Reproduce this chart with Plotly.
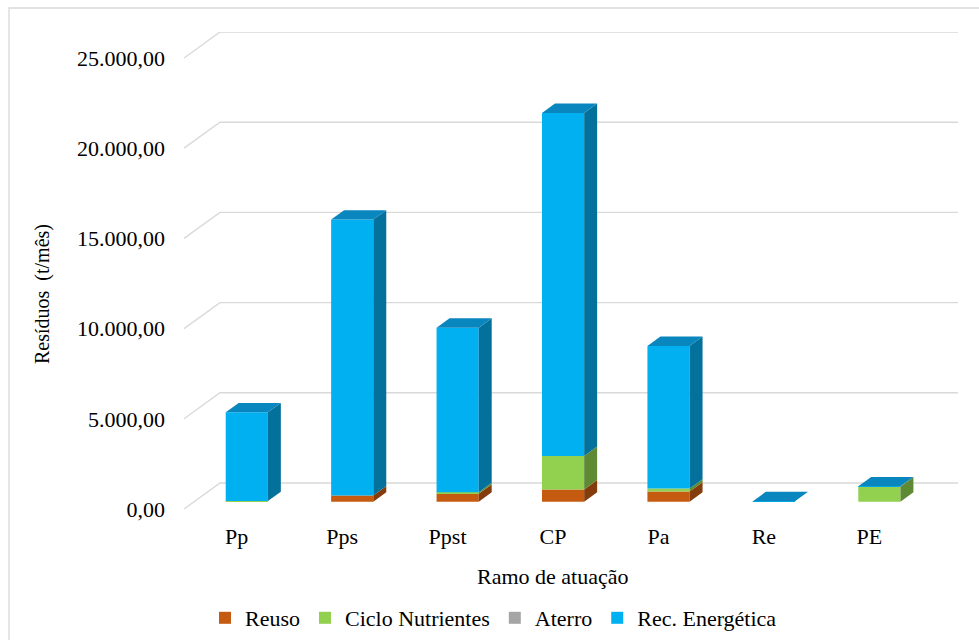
import plotly.graph_objects as go

# ---- data (t/mês) ----
categorias = ["Pp", "Pps", "Ppst", "CP", "Pa", "Re", "PE"]
reuso = [0, 350, 440, 680, 565, 5, 0]
ciclo_nutrientes = [40, 0, 90, 1860, 165, 5, 845]
aterro = [0, 0, 0, 0, 0, 0, 0]
rec_energetica = [4920, 15290, 9120, 19010, 7905, 20, 10]
y_ticks = [0, 5000, 10000, 15000, 20000, 25000]

series = [
    ("Reuso", reuso, "#C55A11", "#843C0C", "#9E480E"),
    ("Ciclo Nutrientes", ciclo_nutrientes, "#92D050", "#5F8A34", "#76A940"),
    ("Aterro", aterro, "#A5A5A5", "#6E6E6E", "#858585"),
    ("Rec. Energética", rec_energetica, "#00B0F0", "#04709C", "#0A86BE"),
]

# ---- page geometry ----
W, H = 979, 640
ML, MR, MT, MB = 184, 21, 32, 131
DEPTH_DX, DEPTH_DY = 36, 26          # pixel offset of the back wall
plot_w = W - ML - MR
plot_h = H - MT - MB
n = len(categorias)
px_per_x = (plot_w - DEPTH_DX) / n
px_per_y = (plot_h - DEPTH_DY) / y_ticks[-1]
x_range = [-0.5, -0.5 + plot_w / px_per_x]
y_range = [0, plot_h / px_per_y]
ex = DEPTH_DX / px_per_x              # depth vector in data units
ey = DEPTH_DY / px_per_y

BAR_W = 0.4
D_FRONT, D_BACK = 0.28, 0.64          # depth fractions of bar front/back

FONT = "Liberation Serif, Times New Roman, DejaVu Serif, serif"
FS = 22

fig = go.Figure()

# cumulative bases for the stacked columns
bases = []
acc = [0.0] * n
for _, vals, *_ in series:
    bases.append(list(acc))
    acc = [a + v for a, v in zip(acc, vals)]
totals = acc

# front faces
for (name, vals, c_front, _, _), base in zip(series, bases):
    fig.add_trace(go.Bar(
        name=name,
        x=[i + D_FRONT * ex for i in range(n)],
        y=vals,
        base=[b + D_FRONT * ey for b in base],
        width=BAR_W,
        marker=dict(color=c_front, line=dict(width=0)),
        hoverinfo="skip",
    ))

# right side faces
for (name, vals, _, c_side, _), base in zip(series, bases):
    xs, ys = [], []
    for i in range(n):
        if vals[i] <= 0:
            continue
        b, t = base[i], base[i] + vals[i]
        xr = i + BAR_W / 2
        xs += [xr + D_FRONT * ex, xr + D_BACK * ex, xr + D_BACK * ex, xr + D_FRONT * ex, xr + D_FRONT * ex, None]
        ys += [b + D_FRONT * ey, b + D_BACK * ey, t + D_BACK * ey, t + D_FRONT * ey, b + D_FRONT * ey, None]
    if xs:
        fig.add_trace(go.Scatter(x=xs, y=ys, mode="lines", fill="toself",
                                 fillcolor=c_side, line=dict(width=0, color=c_side),
                                 showlegend=False, hoverinfo="skip"))

# top faces, coloured by the highest non-zero segment of each column
tops = {}
for k, (_, vals, *_rest) in enumerate(series):
    for i in range(n):
        if vals[i] > 0:
            tops[i] = k
for k, (_, _, _, _, c_top) in enumerate(series):
    xs, ys = [], []
    for i in range(n):
        if tops.get(i) != k:
            continue
        t = totals[i]
        xl, xr = i - BAR_W / 2, i + BAR_W / 2
        xs += [xl + D_FRONT * ex, xr + D_FRONT * ex, xr + D_BACK * ex, xl + D_BACK * ex, xl + D_FRONT * ex, None]
        ys += [t + D_FRONT * ey, t + D_FRONT * ey, t + D_BACK * ey, t + D_BACK * ey, t + D_FRONT * ey, None]
    if xs:
        fig.add_trace(go.Scatter(x=xs, y=ys, mode="lines", fill="toself",
                                 fillcolor=c_top, line=dict(width=0, color=c_top),
                                 showlegend=False, hoverinfo="skip"))

# back wall gridlines with the slanted side-wall segment
shapes = []
for v in y_ticks:
    path = (f"M {x_range[0]},{v} L {x_range[0] + ex},{v + ey} "
            f"L {x_range[1]},{v + ey}")
    shapes.append(dict(type="path", xref="x", yref="y", path=path,
                       line=dict(color="#D9D9D9", width=1.4), layer="below"))

# chart frame
shapes.append(dict(type="rect", xref="paper", yref="paper",
                   x0=(9 - ML) / plot_w, x1=(W + 10 - ML) / plot_w,
                   y0=-(H + 10 - (H - MB)) / plot_h, y1=(H - MB - 8) / plot_h,
                   line=dict(color="#D9D9D9", width=1.3), layer="below"))

fig.update_layout(
    template="none",
    width=W, height=H,
    margin=dict(l=ML, r=MR, t=MT, b=MB, pad=0, autoexpand=False),
    paper_bgcolor="white", plot_bgcolor="white",
    separators=",.",
    barmode="overlay",
    hovermode=False,
    font=dict(family=FONT, size=FS, color="#000000"),
    shapes=shapes,
    xaxis=dict(range=x_range, tickvals=list(range(n)), ticktext=categorias,
               showgrid=False, zeroline=False, showline=False, automargin=False,
               ticks="", ticklabelstandoff=12, fixedrange=True),
    yaxis=dict(range=y_range, tickvals=y_ticks, tickformat=",.2f",
               showgrid=False, zeroline=False, showline=False, automargin=False,
               ticks="", ticklabelstandoff=18, fixedrange=True),
    legend=dict(orientation="h", xanchor="left", yanchor="middle",
                x=(205 - ML) / plot_w, y=(H - MB - 618) / plot_h,
                font=dict(family=FONT, size=FS), traceorder="normal",
                bgcolor="rgba(0,0,0,0)"),
    annotations=[
        dict(text="Ramo de atuação", xref="paper", yref="paper",
             x=(553 - ML) / plot_w, y=(H - MB - 576) / plot_h,
             xanchor="center", yanchor="middle", showarrow=False,
             font=dict(family=FONT, size=FS)),
        dict(text="Resíduos\u00a0 (t/mês)", xref="paper", yref="paper",
             x=(42 - ML) / plot_w, y=(H - MB - 294) / plot_h,
             xanchor="center", yanchor="middle", showarrow=False,
             textangle=-90, font=dict(family=FONT, size=20)),
    ],
)

fig.write_html("out.html")
